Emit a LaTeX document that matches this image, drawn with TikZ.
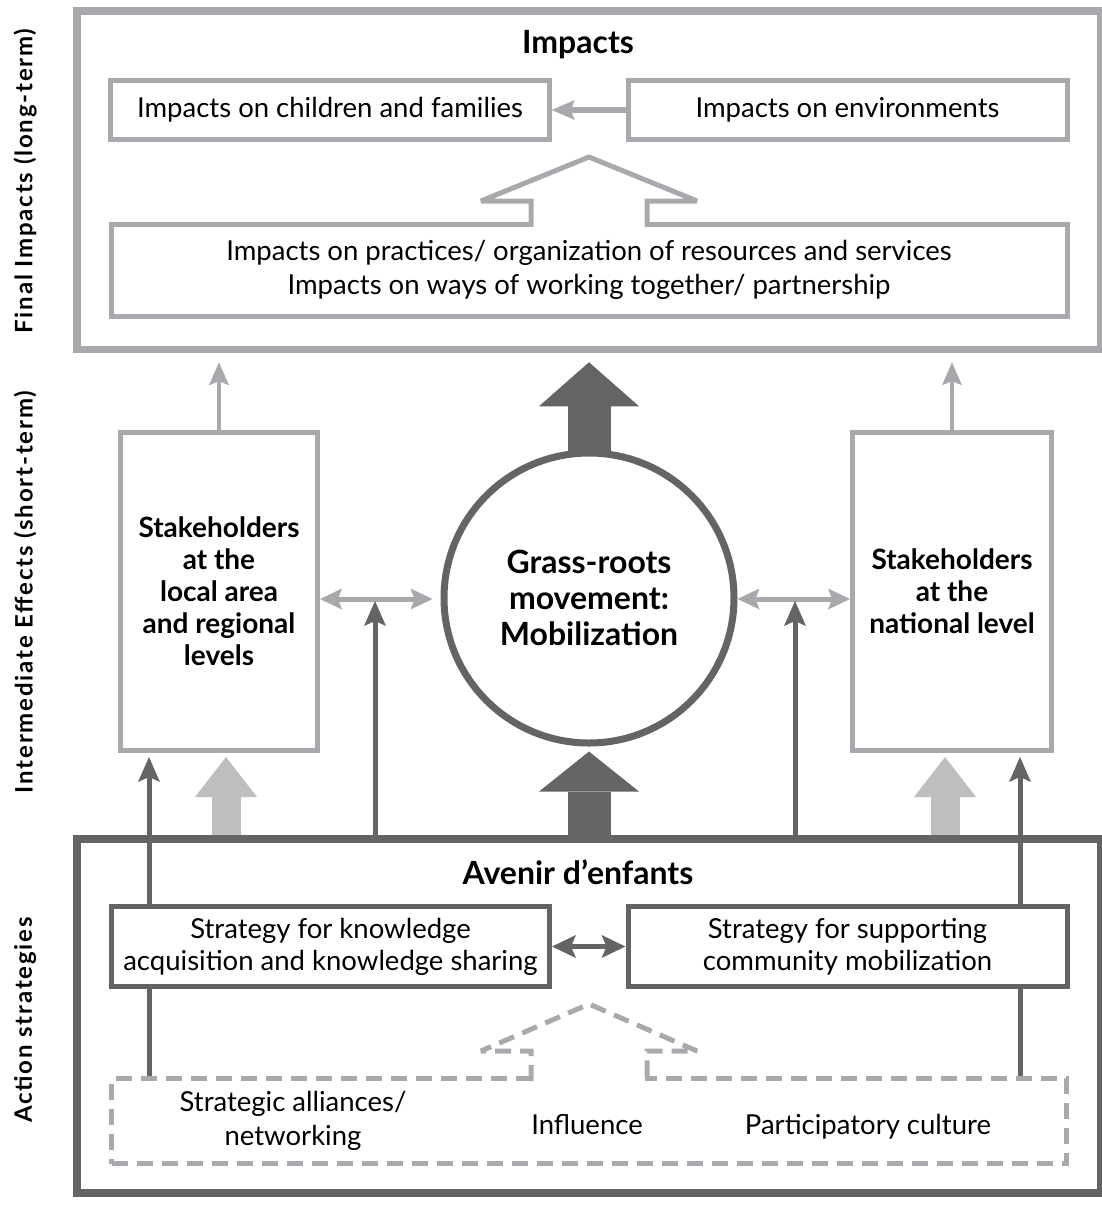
\documentclass[tikz,border=0pt]{standalone}
\usepackage{fontspec}
\setmainfont{Lato}
\usepackage{xcolor}
\usepackage{tikz}
\usetikzlibrary{positioning,arrows.meta,calc}

\definecolor{lgray}{HTML}{A7A9AC}
\definecolor{mgray}{HTML}{BCBEC0}
\definecolor{dgray}{HTML}{636466}

\newcommand{\bodytxt}{\fontsize{27.5}{34}\selectfont}
\newcommand{\strattxt}{\fontsize{27.5}{32}\selectfont}
\newcommand{\titletxt}{\fontsize{32}{36}\selectfont\bfseries}
\newcommand{\staketxt}{\fontsize{28}{32}\selectfont\bfseries}
\newcommand{\mobtxt}{\fontsize{32}{36}\selectfont\bfseries}
\newcommand{\sidetxt}{\fontsize{24}{28}\selectfont\bfseries\addfontfeatures{LetterSpace=7.5}}

\begin{document}
\begin{tikzpicture}[
  x=1pt, y=-1pt,
  frame/.style={rectangle, line width=7.5pt, inner sep=0pt, minimum width=1024pt},
  lbox/.style={rectangle, draw=lgray, line width=5pt, fill=white, inner sep=0pt,
               align=center, font=\bodytxt},
  dbox/.style={rectangle, draw=dgray, line width=5pt, fill=white, inner sep=0pt,
               align=center, font=\strattxt, minimum width=438pt, minimum height=80pt},
  stake/.style={rectangle, draw=lgray, line width=5pt, inner sep=0pt, align=center,
                minimum height=318pt, font=\staketxt},
  dashbox/.style={rectangle, draw=lgray, line width=5pt, dash pattern=on 16pt off 9pt,
                  inner sep=0pt},
  ttl/.style={font=\titletxt},
  txt/.style={align=center, font=\bodytxt},
  sidelbl/.style={rotate=90, font=\sidetxt},
  thinl/.style={-{Stealth[length=23pt,width=20pt,inset=4pt,line width=0pt]}, lgray, line width=4pt},
  twoway/.style={{Stealth[length=22pt,width=21pt,inset=4pt,line width=0pt]}-{Stealth[length=22pt,width=21pt,inset=4pt,line width=0pt]},
                 lgray, line width=5pt},
  thind/.style={-{Stealth[length=25pt,width=22pt,inset=5pt,line width=0pt]}, dgray, line width=5pt},
  twowayd/.style={{Stealth[length=24pt,width=23pt,inset=5pt,line width=0pt]}-{Stealth[length=24pt,width=23pt,inset=5pt,line width=0pt]},
                  dgray, line width=5pt},
  bigd/.style={-{Triangle[length=44pt,width=100pt,line width=0pt]}, dgray, line width=43pt},
  bigl/.style={-{Triangle[length=40pt,width=62pt,line width=0pt]}, mgray, line width=29pt},
  housearr/.style={lgray, line width=5pt, miter limit=2}
]
  \useasboundingbox (0,0) rectangle (1102,1205);

  \node[sidelbl] (lblfinal) at (25,181)  {Final Impacts (long-term)};
  \node[sidelbl] (lblinter) at (25,592)  {Intermediate Effects (short-term)};
  \node[sidelbl] (lblact)   at (25,1020) {Action strategies};

  % long-term impacts
  \node[frame, draw=lgray, minimum height=338.5pt] (impframe) at (589,180.25) {};
  \node[ttl] (imptitle) at (578,45) {Impacts};
  \node[lbox, minimum width=438.5pt, minimum height=58.5pt] (kids) at (330,110) {Impacts on children and families};
  \node[lbox, minimum width=439pt, minimum height=58.5pt]   (env)  at (847.5,110) {Impacts on environments};
  \draw[thinl, line width=6pt] (env.west) -- (kids.east);
  \node[lbox, minimum width=956pt, minimum height=92pt] (prac) at (589,270)
    {Impacts on practices/ organization of resources and services\\
     Impacts on ways of working together/ partnership};
  \fill[white] ([xshift=-56pt,yshift=1pt]prac.north) rectangle ([xshift=56pt,yshift=-6pt]prac.north);
  \draw[housearr] ([xshift=-58pt,yshift=-5pt]prac.north) -- ++(0,-25.5) -- ++(-50,0)
    -- ++(108,-44) -- ++(108,44) -- ++(-50,0) -- ++(0,25.5);

  % short-term effects
  \node[stake, minimum width=197pt] (localbox) at (219,591.5)
    {Stakeholders\\at the\\local area\\and regional\\levels};
  \node[stake, minimum width=199pt] (natbox) at (952,591.5)
    {Stakeholders\\at the\\national level};
  \node[circle, draw=dgray, line width=7pt, minimum size=290pt, inner sep=0pt,
        align=center, font=\mobtxt] (mobil) at (589,598)
    {Grass-roots\\movement:\\Mobilization};

  \draw[thinl, shorten >=9pt] (localbox.north) -- (localbox.north |- impframe.south);
  \draw[thinl, shorten >=9pt] (natbox.north) -- (natbox.north |- impframe.south);
  \draw[bigd, shorten <=-4pt, shorten >=9pt] (mobil.north) -- (mobil.north |- impframe.south);

  \coordinate (jl) at (375,599);
  \coordinate (jr) at (795,599);
  \draw[twoway, shorten >=8pt] (localbox.east |- jl) -- (mobil.west |- jl);
  \draw[twoway] (mobil.east |- jr) -- (natbox.west |- jr);

  % action strategies
  \node[frame, draw=dgray, line width=8pt, minimum height=354pt] (avenir) at (589,1016) {};
  \node[ttl] (avtitle) at (578,872) {Avenir d’enfants};

  \draw[thind, shorten >=2pt] (jl |- avenir.north) -- (jl);
  \draw[thind, shorten >=2pt] (jr |- avenir.north) -- (jr);
  \draw[bigd, {-Triangle[length=40pt,width=100pt,line width=0pt]}, shorten <=-4pt, shorten >=5pt]
    (avenir.north) -- (mobil.south);
  \coordinate (lgl) at ([xshift=-363pt]avenir.north);
  \coordinate (lgr) at ([xshift=356pt]avenir.north);
  \draw[bigl, shorten >=4pt] (lgl) -- (lgl |- localbox.south);
  \draw[bigl, shorten >=4pt] (lgr) -- (lgr |- natbox.south);

  \node[dashbox, minimum width=955pt, minimum height=85pt] (strat) at (589,1121) {};
  \fill[white] ([xshift=-56pt,yshift=1pt]strat.north) rectangle ([xshift=56pt,yshift=-6pt]strat.north);
  \draw[housearr, dash pattern=on 16pt off 9pt] ([xshift=-58pt,yshift=-5pt]strat.north) -- ++(0,-30) -- ++(-50,0)
    -- ++(108,-47) -- ++(108,47) -- ++(-50,0) -- ++(0,30);
  \node[txt] (allies) at (293,1121) {Strategic alliances/\\networking};
  \node[txt] (influ)  at (587,1125) {Influence};
  \node[txt] (partic) at (868,1127) {Participatory culture};

  \coordinate (kl) at ([xshift=-440pt]strat.north);
  \coordinate (kr) at ([xshift=431pt]strat.north);
  \draw[thind, shorten >=4pt] (kl) -- (kl |- localbox.south);
  \draw[thind, shorten >=4pt] (kr) -- (kr |- natbox.south);

  \node[dbox] (know) at (330.5,946.5) {Strategy for knowledge\\acquisition and knowledge sharing};
  \node[dbox, minimum width=439pt] (comm) at (847.5,946.5) {Strategy for supporting\\community mobilization};
  \draw[twowayd] (know.east) -- (comm.west);
\end{tikzpicture}
\end{document}
